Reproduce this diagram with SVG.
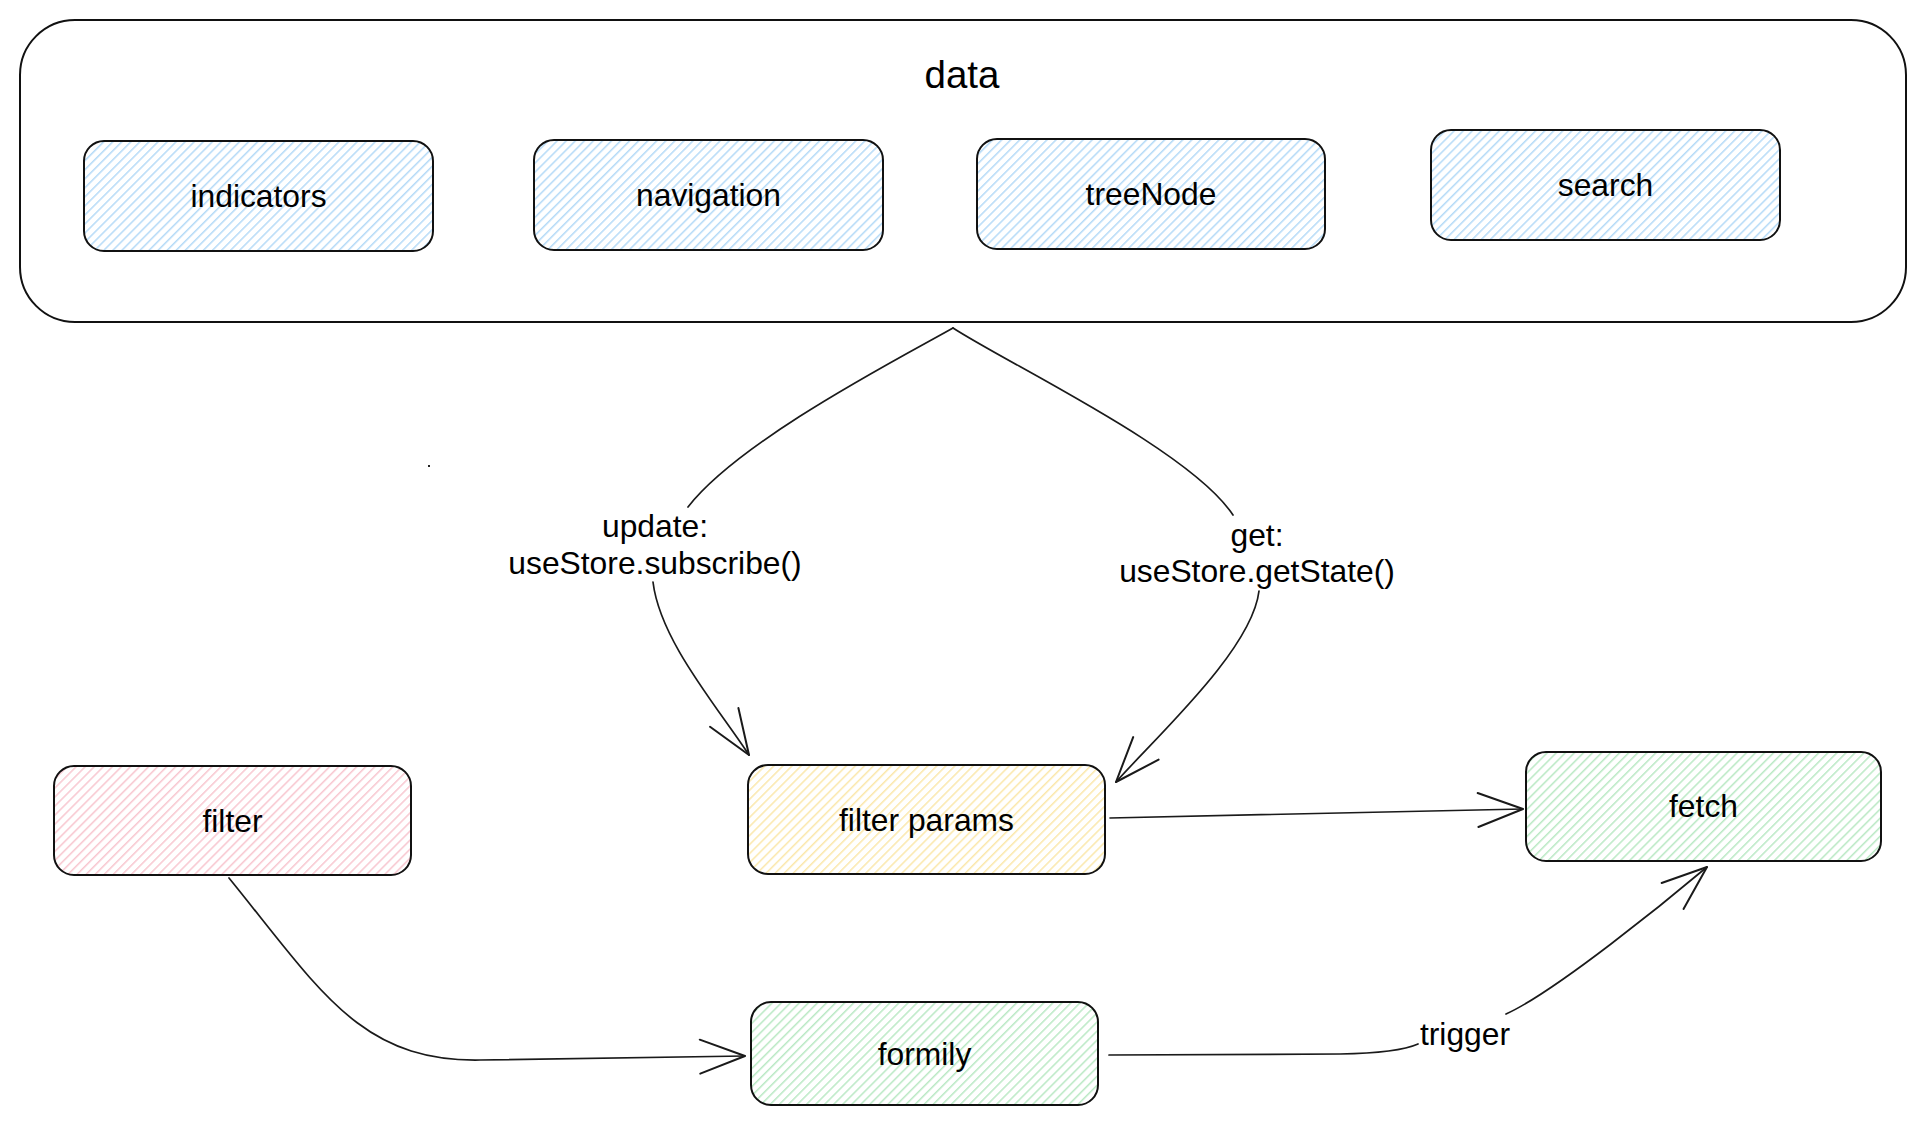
<svg xmlns="http://www.w3.org/2000/svg" width="1928" height="1126" viewBox="0 0 1928 1126">
  <defs>
    <pattern id="hBlue" patternUnits="userSpaceOnUse" width="6.4" height="6.4" patternTransform="rotate(45)">
      <rect width="6.4" height="6.4" fill="#ffffff"/>
      <line x1="0.8" y1="0" x2="0.8" y2="6.4" stroke="#a2d1f6" stroke-width="1.2"/>
    </pattern>
    <pattern id="hPink" patternUnits="userSpaceOnUse" width="6.4" height="6.4" patternTransform="rotate(45)">
      <rect width="6.4" height="6.4" fill="#ffffff"/>
      <line x1="0.8" y1="0" x2="0.8" y2="6.4" stroke="#f7b8c3" stroke-width="1.2"/>
    </pattern>
    <pattern id="hYellow" patternUnits="userSpaceOnUse" width="6.4" height="6.4" patternTransform="rotate(45)">
      <rect width="6.4" height="6.4" fill="#ffffff"/>
      <line x1="0.8" y1="0" x2="0.8" y2="6.4" stroke="#fbe296" stroke-width="1.2"/>
    </pattern>
    <pattern id="hGreen" patternUnits="userSpaceOnUse" width="6.4" height="6.4" patternTransform="rotate(45)">
      <rect width="6.4" height="6.4" fill="#ffffff"/>
      <line x1="0.8" y1="0" x2="0.8" y2="6.4" stroke="#a8e4b6" stroke-width="1.2"/>
    </pattern>
    <marker id="open" markerUnits="userSpaceOnUse" markerWidth="60" markerHeight="60" refX="0" refY="0" orient="auto" overflow="visible">
      <path d="M -45 -17 L 0 0 L -45 17" fill="none" stroke="#1a1a1a" stroke-width="2" stroke-linecap="round" stroke-linejoin="round"/>
    </marker>
  </defs>
  <style>
    .box { stroke: #111; stroke-width: 2; }
    .t { font-family: "Liberation Sans", Arial, sans-serif; font-size: 31.8px; fill: #000; text-anchor: middle; }
    .title { font-family: "Liberation Sans", Arial, sans-serif; font-size: 38.5px; fill: #000; text-anchor: middle; }
    .e { fill: none; stroke: #1a1a1a; stroke-width: 1.7; stroke-linecap: round; }
  </style>
  <rect width="1928" height="1126" fill="#ffffff"/>

  <g id="data">
    <rect class="box" x="20" y="20" width="1886" height="302" rx="55" ry="55" fill="#ffffff"/>
    <text class="title" x="962" y="88">data</text>
  </g>
  <g id="indicators">
    <rect class="box" x="84" y="141" width="349" height="110" rx="20" fill="url(#hBlue)"/>
    <text class="t" x="258.5" y="207">indicators</text>
  </g>
  <g id="navigation">
    <rect class="box" x="534" y="140" width="349" height="110" rx="20" fill="url(#hBlue)"/>
    <text class="t" x="708.5" y="206">navigation</text>
  </g>
  <g id="treeNode">
    <rect class="box" x="977" y="139" width="348" height="110" rx="20" fill="url(#hBlue)"/>
    <text class="t" x="1151" y="205">treeNode</text>
  </g>
  <g id="search">
    <rect class="box" x="1431" y="130" width="349" height="110" rx="20" fill="url(#hBlue)"/>
    <text class="t" x="1605.5" y="196">search</text>
  </g>
  <g id="filter">
    <rect class="box" x="54" y="766" width="357" height="109" rx="20" fill="url(#hPink)"/>
    <text class="t" x="232.5" y="832">filter</text>
  </g>
  <g id="filterParams">
    <rect class="box" x="748" y="765" width="357" height="109" rx="20" fill="url(#hYellow)"/>
    <text class="t" x="926.5" y="831">filter params</text>
  </g>
  <g id="fetch">
    <rect class="box" x="1526" y="752" width="355" height="109" rx="20" fill="url(#hGreen)"/>
    <text class="t" x="1703.5" y="817">fetch</text>
  </g>
  <g id="formily">
    <rect class="box" x="751" y="1002" width="347" height="103" rx="20" fill="url(#hGreen)"/>
    <text class="t" x="924.5" y="1065">formily</text>
  </g>

  <g id="connectors">
    <path class="e" d="M 953 328 C 900 358, 740 440, 688 507"/>
    <path class="e" d="M 653 582 C 660 640, 716 705, 749 755" marker-end="url(#open)"/>
    <text class="t" x="655" y="537">update:</text>
    <text class="t" x="655" y="574">useStore.subscribe()</text>

    <path class="e" d="M 953 328 C 1010 365, 1190 450, 1233 515"/>
    <path class="e" d="M 1259 591 C 1252 650, 1156 737, 1116 782" marker-end="url(#open)"/>
    <text class="t" x="1257" y="546">get:</text>
    <text class="t" x="1257" y="582">useStore.getState()</text>

    <path class="e" d="M 1110 818 L 1523 809" marker-end="url(#open)"/>

    <path class="e" d="M 229 878 C 320 990, 360 1062, 480 1060 L 745 1056" marker-end="url(#open)"/>

    <path class="e" d="M 1109 1055 L 1340 1054 Q 1398 1053, 1418 1044"/>
    <path class="e" d="M 1506 1014 C 1555 992, 1669 899, 1707 867" marker-end="url(#open)"/>
    <text class="t" x="1465" y="1045">trigger</text>
  </g>
  <rect x="428" y="465" width="2" height="2" fill="#222"/>
</svg>
